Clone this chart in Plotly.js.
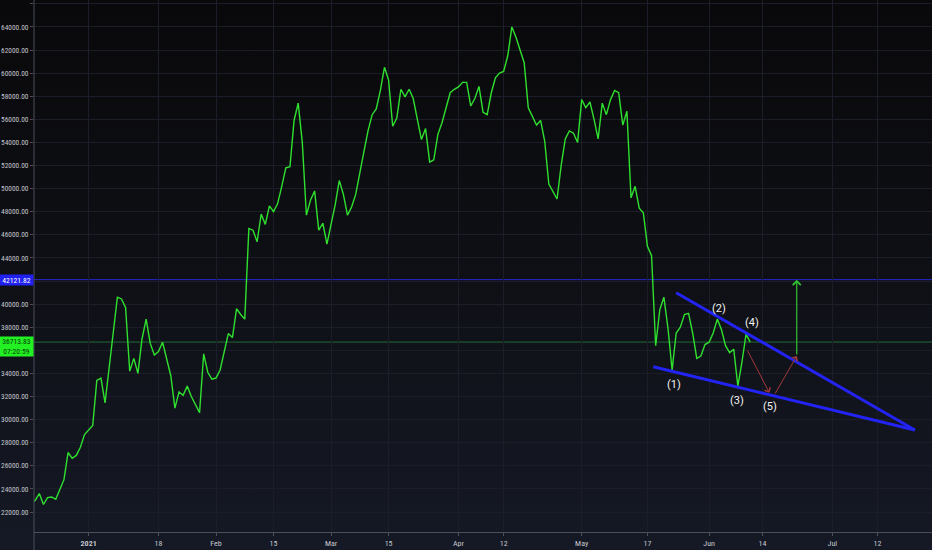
<!DOCTYPE html>
<html>
<head>
<meta charset="utf-8">
<script src="https://cdn.plot.ly/plotly-3.0.1.min.js"></script>
<style>
  html, body { margin:0; padding:0; width:932px; height:550px; overflow:hidden;
    background: linear-gradient(to bottom, #09090b 0%, #0e0f14 45%, #151925 100%); }
  #chart { width:932px; height:550px; }
</style>
</head>
<body>
<div id="chart"></div>
<script>
// ---- DATA ----
const startDate = '2020-12-18';   // first daily close
const closePrices = [
  // Dec 18 - Dec 31, 2020
  22800, 23000, 23600, 22650, 23250, 23300, 23100, 23900, 24800, 27150, 26650, 26900, 27600, 28700,
  // Jan 2021
  29100, 29500, 33400, 33600, 31450, 34400, 37200, 40600, 40450, 39700, 34200, 35300, 34000, 37000, 38700,
  36600, 35600, 35900, 36700, 35200, 33800, 31000, 32400, 32100, 32900, 32000, 31300, 30600, 35700, 34100, 33500,
  // Feb 2021
  33600, 34300, 35900, 37450, 37100, 39600, 39100, 38700, 46550, 46400, 45400, 47800, 46900, 48500,
  48000, 48700, 50200, 51800, 51900, 55900, 57400, 54000, 47700, 49000, 49800, 46400, 47000, 45200,
  // Mar 2021
  46900, 48600, 50700, 49500, 47700, 48400, 49500, 51200, 53200, 55000, 56400, 56900, 58500, 60500, 59400,
  55400, 56100, 58600, 57950, 58600, 57800, 56000, 54250, 55200, 52300, 52500, 54700, 55700, 56900, 58300, 58600,
  // Apr 2021
  58800, 59200, 59200, 57150, 57800, 58850, 56600, 56400, 58300, 59600, 60000, 60150, 61500, 64000, 63100,
  62000, 60900, 57000, 56300, 55500, 55900, 54100, 50400, 49800, 49100, 52000, 54300, 55000, 54800, 54000,
  // May 2021
  57700, 57000, 57500, 56000, 54300, 57400, 56400, 57700, 58500, 58300, 55500, 56700, 49200, 50200, 48300,
  47900, 45000, 44200, 36400, 39500, 40600, 37900, 34300, 37500, 38000, 39100, 39200, 37500, 35300, 35500, 36500,
  // Jun 1 - Jun 11, 2021
  36700, 37500, 38700, 37800, 36400, 35800, 36100, 32900, 35000, 37400, 36713.83
];
const lastPrice = 36713.83;
const lastPriceTimer = '07:20:59';
const targetPrice = 42121.82;

// wedge (falling wedge) lines
const wedgeUpperX = ['2021-05-24 00:00', '2021-07-21 02:00'];
const wedgeUpperY = [40990, 29100];
const wedgeLowerX = ['2021-05-18 10:00', '2021-07-21 02:00'];
const wedgeLowerY = [34580, 29100];

// wave labels
const waveLabels = ['(1)', '(2)', '(3)', '(4)', '(5)'];
const waveX = ['2021-05-23 13:00', '2021-06-03 10:00', '2021-06-07 21:00', '2021-06-11 09:00', '2021-06-15 20:00'];
const waveY = [33000, 39640, 31640, 38390, 31120];

// projection arrows: [tailX, tailY, headX, headY]
const redArrows = [
  ['2021-06-10 04:00', 36110, '2021-06-15 16:00', 32330],
  ['2021-06-16 21:00', 32130, '2021-06-22 08:00', 35510]
];
const greenArrow = ['2021-06-22 08:00', 35510, '2021-06-22 08:00', 42100];

// axis ticks
const xTickVals = ['2021-01-01','2021-01-18','2021-02-01','2021-02-15','2021-03-01','2021-03-15','2021-04-01',
                   '2021-04-12','2021-05-01','2021-05-17','2021-06-01','2021-06-14','2021-07-01','2021-07-12'];
const xTickText = ['<b>2021</b>','18','Feb','15','Mar','15','Apr','12','May','17','Jun','14','Jul','12'];
const yTickVals = [22000,24000,26000,28000,30000,32000,34000,36000,38000,40000,42000,44000,
                   46000,48000,50000,52000,54000,56000,58000,60000,62000,64000,66000];
const yTickText = ['22000.00','24000.00','26000.00','28000.00','30000.00','32000.00','34000.00','',
                   '38000.00','40000.00','','44000.00','46000.00','48000.00','50000.00','52000.00',
                   '54000.00','56000.00','58000.00','60000.00','62000.00','64000.00','66000.00'];

// ---- BUILD ----
const dates = closePrices.map((_, i) => {
  const d = new Date(startDate + 'T00:00:00Z');
  d.setUTCDate(d.getUTCDate() + i);
  return d.toISOString().slice(0, 10);
});

const narrow = '"Liberation Sans Narrow", "Roboto Condensed", "Arial Narrow", "Liberation Sans", sans-serif';
const yFont = { family: narrow, size: 7.4, color: '#c3c6ce' };
const xFont = { family: narrow, size: 8, color: '#c3c6ce' };

const traces = [
  { x: dates, y: closePrices, type: 'scatter', mode: 'lines',
    line: { color: '#2fe02f', width: 1.4, shape: 'linear' }, hoverinfo: 'skip' },
  { x: wedgeUpperX, y: wedgeUpperY, type: 'scatter', mode: 'lines',
    line: { color: '#2323f2', width: 3 }, hoverinfo: 'skip' },
  { x: wedgeLowerX, y: wedgeLowerY, type: 'scatter', mode: 'lines',
    line: { color: '#2323f2', width: 3 }, hoverinfo: 'skip' }
];

const shapes = [
  { type: 'line', xref: 'paper', x0: 0, x1: 1, yref: 'y', y0: targetPrice, y1: targetPrice,
    line: { color: '#2626c8', width: 1 }, layer: 'below' },
  { type: 'line', xref: 'paper', x0: 0, x1: 1, yref: 'y', y0: lastPrice, y1: lastPrice,
    line: { color: '#1f6b35', width: 1 }, layer: 'below' },
  { type: 'line', xref: 'paper', x0: 0, x1: 0, yref: 'paper', y0: -18/532, y1: 1,
    line: { color: '#4b4f5a', width: 1 } }
];

const annotations = [];
waveLabels.forEach((t, i) => annotations.push({
  x: waveX[i], y: waveY[i], xref: 'x', yref: 'y', text: t, showarrow: false,
  font: { family: 'Roboto, "Liberation Sans", sans-serif', size: 11, color: '#f2f2f2' }
}));
redArrows.forEach(a => annotations.push({
  x: a[2], y: a[3], ax: a[0], ay: a[1], xref: 'x', yref: 'y', axref: 'x', ayref: 'y',
  text: '', showarrow: true, arrowhead: 4, arrowsize: 1.3, arrowwidth: 1, arrowcolor: '#a03a3a'
}));
annotations.push({
  x: greenArrow[2], y: greenArrow[3], ax: greenArrow[0], ay: greenArrow[1],
  xref: 'x', yref: 'y', axref: 'x', ayref: 'y',
  text: '', showarrow: true, arrowhead: 4, arrowsize: 1.3, arrowwidth: 1.2, arrowcolor: '#32c232'
});
annotations.push({
  xref: 'paper', x: 0, xanchor: 'right', yref: 'y', y: targetPrice, yanchor: 'middle',
  text: '42121.82', showarrow: false, bgcolor: '#2020f0', width: 33, height: 10, borderpad: 0,
  font: { family: narrow, size: 7.6, color: '#ffffff' }
});
annotations.push({
  xref: 'paper', x: 0, xanchor: 'right', yref: 'y', y: lastPrice, yanchor: 'top', yshift: 6,
  text: '36713.83<br>' + lastPriceTimer, showarrow: false, bgcolor: '#22f022', width: 33, height: 19, borderpad: 0,
  font: { family: narrow, size: 7.6, color: '#0b3a0b' }
});

const layout = {
  width: 932, height: 550,
  margin: { l: 34, r: 0, t: 0, b: 18 },
  paper_bgcolor: 'rgba(0,0,0,0)', plot_bgcolor: 'rgba(0,0,0,0)',
  showlegend: false,
  xaxis: {
    type: 'date', range: ['2020-12-18 17:00', '2021-07-25 06:00'],
    tickvals: xTickVals, ticktext: xTickText, tickfont: xFont,
    showgrid: true, gridcolor: '#1b1e29', gridwidth: 1,
    showline: true, linecolor: '#4b4f5a', linewidth: 1,
    ticks: 'outside', ticklen: 3, tickcolor: '#4b4f5a', zeroline: false, fixedrange: true
  },
  yaxis: {
    range: [20270, 66330], tickvals: yTickVals, ticktext: yTickText, tickfont: yFont,
    showgrid: true, gridcolor: '#1b1e29', gridwidth: 1,
    showline: false, ticks: 'outside', ticklen: 3, tickcolor: '#4b4f5a',
    zeroline: false, fixedrange: true
  },
  shapes: shapes,
  annotations: annotations
};

Plotly.newPlot('chart', traces, layout, { staticPlot: true, displayModeBar: false });
</script>
</body>
</html>
